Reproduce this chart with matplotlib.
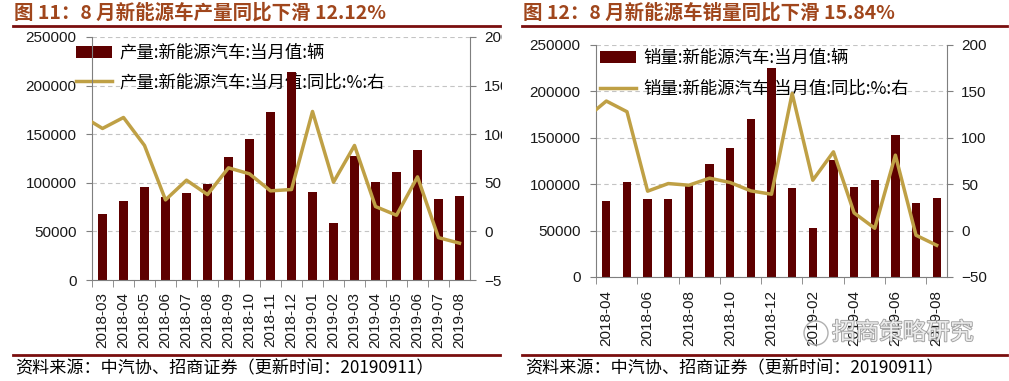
import matplotlib.pyplot as plt
import matplotlib.patheffects as pe
from matplotlib.lines import Line2D
from matplotlib.patches import Ellipse
from matplotlib.font_manager import FontProperties
from matplotlib.transforms import Bbox, TransformedBbox

plt.rcParams['font.family'] = ['Liberation Sans', 'Noto Sans CJK SC', 'DejaVu Sans']

# --- data: NEV production (left chart) ---
prod_months = ['2018-03', '2018-04', '2018-05', '2018-06', '2018-07', '2018-08',
               '2018-09', '2018-10', '2018-11', '2018-12', '2019-01', '2019-02',
               '2019-03', '2019-04', '2019-05', '2019-06', '2019-07', '2019-08']
prod_volume = [68000, 81000, 96000, 85000, 89600, 99000, 126700, 145300, 173000,
               213600, 90300, 58700, 127700, 101000, 111600, 133600, 83800, 86900]
prod_yoy_prev = 119.0   # 2018-02, only the stub at the left edge shows
prod_yoy = [105.9, 117.2, 88.4, 32.4, 52.7, 37.9, 65.4, 59.2, 41.7, 43.1,
            123.4, 50.6, 88.4, 25.6, 16.6, 56.1, -6.4, -12.12]

# --- data: NEV sales (right chart) ---
sales_months = ['2018-04', '2018-05', '2018-06', '2018-07', '2018-08', '2018-09',
                '2018-10', '2018-11', '2018-12', '2019-01', '2019-02', '2019-03',
                '2019-04', '2019-05', '2019-06', '2019-07', '2019-08']
sales_volume = [82400, 102500, 84500, 84500, 99600, 121600, 138500, 169800, 225500,
                96000, 53200, 126300, 97500, 104700, 152500, 80200, 85300]
sales_yoy_prev = 121.0  # 2018-03, clipped stub
sales_yoy = [139.6, 128.1, 42.5, 50.7, 48.9, 56.5, 51.8, 42.8, 39.2, 147.8,
             54.3, 84.9, 19.1, 2.5, 81.3, -5.0, -15.84]

prod_labels = ['产量:新能源汽车:当月值:辆', '产量:新能源汽车:当月值:同比:%:右']
sales_labels = ['销量:新能源汽车:当月值:辆', '销量:新能源汽车:当月值:同比:%:右']

BAR_COLOR = '#5E0000'
LINE_COLOR = '#BFA045'
TITLE_COLOR = '#A0461C'
RULE_COLOR = '#7A0E0E'
SPINE = '#7F7F7F'
CJK = ['Noto Sans CJK SC', 'DejaVu Sans']

W, H = 1009, 381
fig = plt.figure(figsize=(W / 100, H / 100), dpi=100)


def fx(px):
    return px / W


def fy(py):
    return 1 - py / H


def draw_panel(box, months, volume, yoy_prev, yoy, labels, bar_w, step,
               legend_xy, spacing, clip_right=None):
    left, top, right, bottom = box
    ax = fig.add_axes([fx(left), fy(bottom), fx(right - left), (bottom - top) / H])
    ax2 = ax.twinx()
    x = list(range(len(months)))

    bars = ax.bar(x, volume, width=bar_w, color=BAR_COLOR, zorder=2)
    line, = ax2.plot([-1] + x, [yoy_prev] + yoy, color=LINE_COLOR, lw=2.5)

    ax.set_xlim(-0.5, len(months) - 0.5)
    ax.set_ylim(0, 250000)
    ax2.set_ylim(-50, 200)
    ax.set_yticks(range(0, 250001, 50000))
    ax2.set_yticks(range(-50, 201, 50))
    ax.yaxis.grid(True, ls=(0, (4, 3)), color='#C4C4C4', lw=0.8)
    ax.set_axisbelow(True)

    ax.set_xticks(x[::step])
    ax.set_xticklabels(months[::step])
    ax.set_xticks([i - 0.5 for i in range(0, len(months), step)], minor=True)
    ax.tick_params(axis='x', which='major', length=0, pad=9, rotation=90,
                   labelsize=11, labelcolor='#1A1A1A')
    ax.tick_params(axis='x', which='minor', length=5, color=SPINE)
    ax.tick_params(axis='y', length=4, color=SPINE, pad=7, labelsize=11,
                   labelcolor='#1A1A1A')
    ax2.tick_params(axis='y', length=4, color=SPINE, pad=6, labelsize=11,
                    labelcolor='#1A1A1A')

    for s in ['top', 'right']:
        ax.spines[s].set_visible(False)
    for s in ['top', 'left', 'bottom']:
        ax2.spines[s].set_visible(False)
    for s in [ax.spines['left'], ax.spines['bottom'], ax2.spines['right']]:
        s.set_color(SPINE)

    leg = ax.legend([bars, line], labels, loc='upper left',
                    bbox_to_anchor=(fx(legend_xy[0]), fy(legend_xy[1])),
                    bbox_transform=fig.transFigure, frameon=False,
                    prop=FontProperties(family=CJK, size=12.5),
                    handlelength=2.1, handletextpad=0.4, labelspacing=spacing,
                    borderpad=0, borderaxespad=0)
    leg.set_zorder(1)

    # the left picture is cut off through its right-hand tick labels
    if clip_right is not None:
        clip = TransformedBbox(Bbox([[0, 0], [fx(clip_right), 1]]), fig.transFigure)
        for lab in ax2.get_yticklabels():
            lab.set_clip_box(clip)
            lab.set_clip_on(True)
    return ax, ax2


draw_panel((92, 37, 470, 280), prod_months, prod_volume, prod_yoy_prev, prod_yoy,
           prod_labels, 0.43, 1, (76, 44), 0.65, clip_right=502)
draw_panel((596, 45, 947, 277), sales_months, sales_volume, sales_yoy_prev, sales_yoy,
           sales_labels, 0.4, 2, (600, 49), 0.75)

# titles, rules and sources
fig.text(fx(14), fy(13), '图 11：8 月新能源车产量同比下滑 12.12%', fontsize=14,
         fontweight='bold', color=TITLE_COLOR, family=CJK, va='center')
fig.text(fx(523), fy(13), '图 12：8 月新能源车销量同比下滑 15.84%', fontsize=14,
         fontweight='bold', color=TITLE_COLOR, family=CJK, va='center')
for x0, x1 in [(13, 500), (522, 1007)]:
    fig.add_artist(Line2D([fx(x0), fx(x1)], [fy(26), fy(26)], color=RULE_COLOR, lw=2))
    fig.add_artist(Line2D([fx(x0), fx(x1)], [fy(355), fy(355)], color=RULE_COLOR, lw=2))
src = '资料来源：中汽协、招商证券（更新时间：20190911）'
fig.text(fx(15), fy(368), src, fontsize=12.3, family=CJK, va='center')
fig.text(fx(525), fy(368), src, fontsize=12.3, family=CJK, va='center')

# watermark
fig.add_artist(Ellipse((fx(816), fy(333)), 24 / W, 24 / H, transform=fig.transFigure,
                       fill=False, ec='#B0B0B0', lw=1))
fig.text(fx(832), fy(333), '招商策略研究', fontsize=17, color='white', alpha=0.8,
         family=CJK, va='center',
         path_effects=[pe.withStroke(linewidth=1.3, foreground='#8A8A8A')])

fig.savefig('out.png', dpi=100)
